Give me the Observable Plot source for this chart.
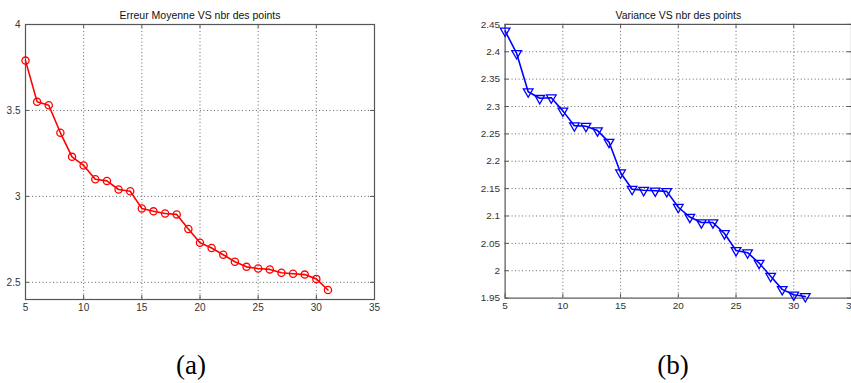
<!DOCTYPE html>
<html>
<head>
<meta charset="utf-8">
<script src="https://cdn.jsdelivr.net/npm/d3@7"></script>
<script src="https://cdn.jsdelivr.net/npm/@observablehq/plot@0.6"></script>
<style>
  html, body { margin: 0; padding: 0; background: #fff; }
  #wrap { position: relative; width: 851px; height: 383px; overflow: hidden; background: #fff; }
  #a, #b { position: absolute; top: 0; }
  #a { left: 0; }
  #b { left: 420px; }
  .cap { position: absolute; top: 350px; font-family: "Liberation Serif", "DejaVu Serif", serif; font-size: 27px; color: #000; transform: translateX(-50%); }
</style>
</head>
<body>
<div id="wrap">
  <div id="a"></div>
  <div id="b"></div>
  <div class="cap" style="left:191px">(a)</div>
  <div class="cap" style="left:673px">(b)</div>
</div>
<script>
const nbrPoints = [5,6,7,8,9,10,11,12,13,14,15,16,17,18,19,20,21,22,23,24,25,26,27,28,29,30,31];
const erreurMoyenne = [3.79,3.55,3.53,3.37,3.23,3.18,3.10,3.09,3.04,3.03,2.93,2.913,2.90,2.895,2.81,2.73,2.70,2.66,2.62,2.59,2.58,2.575,2.556,2.55,2.545,2.52,2.455];
const variance = [2.438,2.397,2.327,2.315,2.316,2.292,2.265,2.264,2.256,2.235,2.179,2.149,2.147,2.146,2.145,2.116,2.098,2.088,2.088,2.068,2.037,2.033,2.014,1.99,1.966,1.956,1.953];
const xTicks = [5,10,15,20,25,30,35];
const yTicksA = [2.5,3,3.5,4];
const yTicksB = [1.95,2,2.05,2.1,2.15,2.2,2.25,2.3,2.35,2.4,2.45];
const titleA = "Erreur Moyenne VS nbr des points";
const titleB = "Variance VS nbr des points";

const font = "'Liberation Sans', Arial, sans-serif";
const fmt = d => String(+d.toFixed(2));

function chart({values, yDomain, yTicks, title, color, symbol, rotate, width, marginLeft, marginRight}) {
  const height = 320, marginTop = 24, marginBottom = 21;
  const data = nbrPoints.map((n, i) => ({n, v: values[i]}));
  const xDomain = [5, 35];
  const ph = height - marginTop - marginBottom;
  const pw = width - marginLeft - marginRight;
  const ky = (yDomain[1] - yDomain[0]) / ph * 4;
  const kx = (xDomain[1] - xDomain[0]) / pw * 4;
  return Plot.plot({
    width, height, marginTop, marginBottom, marginLeft, marginRight,
    style: {fontFamily: font, background: "#fff"},
    x: {domain: xDomain, label: null},
    y: {domain: yDomain, label: null},
    marks: [
      Plot.gridX(xTicks.slice(1, -1), {stroke: "#333", strokeOpacity: 0.75, strokeDasharray: "1,2.5"}),
      Plot.gridY(yTicks.filter(t => t > yDomain[0] && t < yDomain[1]), {stroke: "#333", strokeOpacity: 0.75, strokeDasharray: "1,2.5"}),
      Plot.ruleX(xTicks, {x: d => d, y1: yDomain[0], y2: yDomain[0] + ky, stroke: "#555"}),
      Plot.ruleX(xTicks, {x: d => d, y1: yDomain[1], y2: yDomain[1] - ky, stroke: "#555"}),
      Plot.ruleY(yTicks, {y: d => d, x1: xDomain[0], x2: xDomain[0] + kx, stroke: "#555"}),
      Plot.ruleY(yTicks, {y: d => d, x1: xDomain[1], x2: xDomain[1] - kx, stroke: "#555"}),
      Plot.frame({stroke: "#555", strokeWidth: 1.2}),
      Plot.axisX(xTicks, {label: null, tickSize: 0, tickPadding: 4, fontSize: 10, fill: "#333", tickFormat: fmt}),
      Plot.axisY(yTicks, {label: null, tickSize: 0, tickPadding: 5, fontSize: 10, fill: "#333", tickFormat: fmt}),
      Plot.line(data, {x: "n", y: "v", stroke: color, strokeWidth: 1.6}),
      Plot.dot(data, {x: "n", y: "v", stroke: color, strokeWidth: 1.3, r: 3.6, symbol, rotate, fill: "none"}),
      Plot.text([title], {text: d => d, frameAnchor: "top", dy: -13, fontSize: 10.5, fill: "#111"})
    ]
  });
}

document.getElementById("a").append(chart({
  values: erreurMoyenne, yDomain: [2.4, 4], yTicks: yTicksA, title: titleA,
  color: "#ff0000", symbol: "circle", rotate: 0, width: 420, marginLeft: 25, marginRight: 46
}));
document.getElementById("b").append(chart({
  values: variance, yDomain: [1.95, 2.45], yTicks: yTicksB, title: titleB,
  color: "#0000ff", symbol: "triangle", rotate: 180, width: 433, marginLeft: 85, marginRight: 0
}));
</script>
</body>
</html>
